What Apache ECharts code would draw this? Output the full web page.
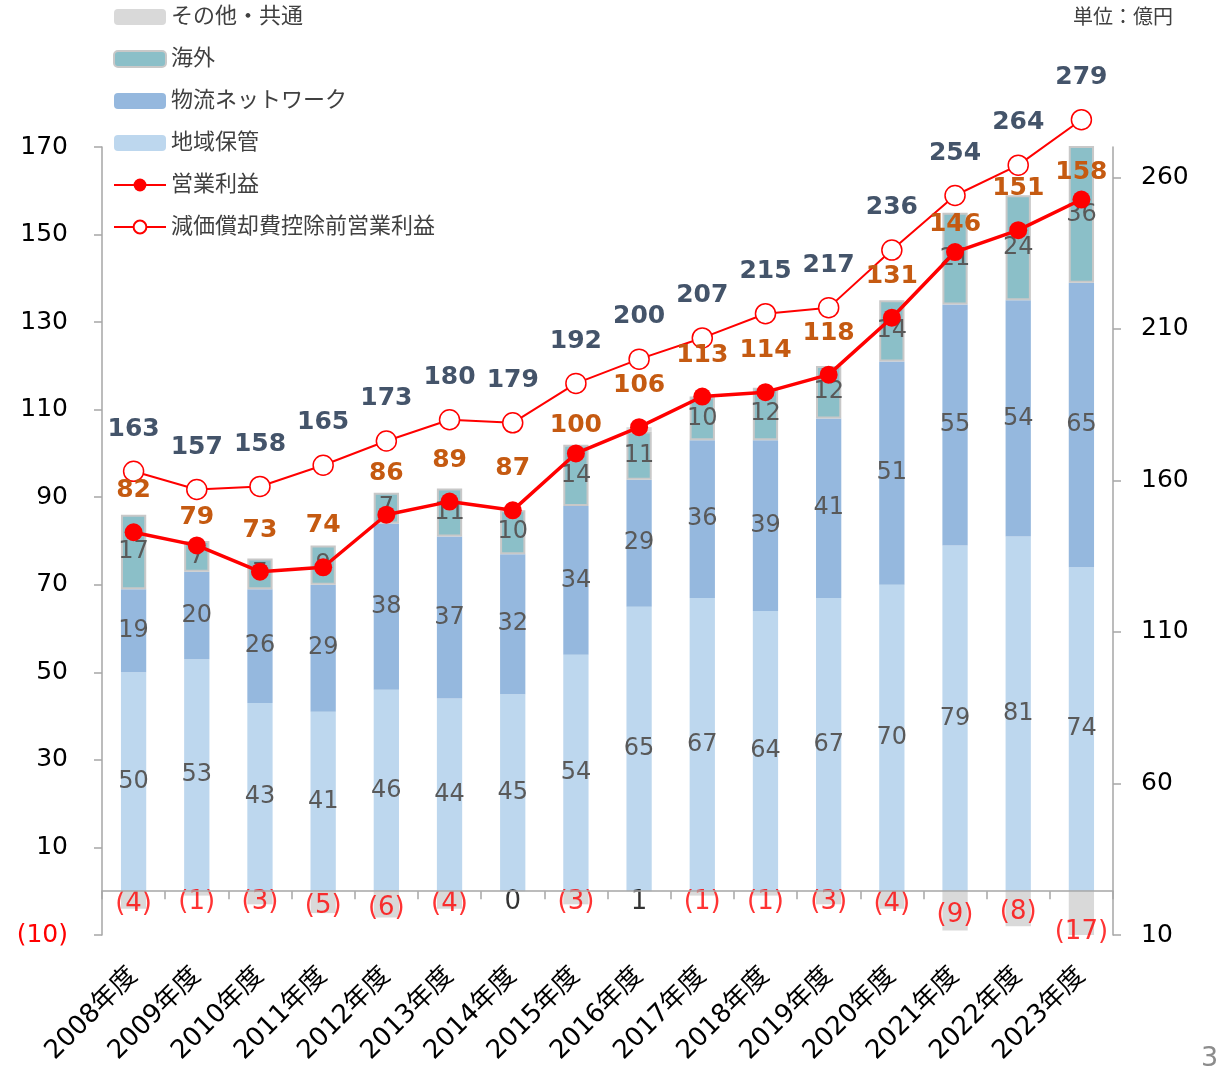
<!DOCTYPE html>
<html>
<head>
<meta charset="utf-8">
<script src="https://cdn.jsdelivr.net/npm/echarts@6/dist/echarts.min.js"></script>
<style>
  html, body { margin: 0; padding: 0; background: #fff; }
  #chart { width: 1217px; height: 1067px; }
</style>
</head>
<body>
<div id="chart"></div>
<script>
(function () {
  "use strict";

  var YEARS = ["2008年度", "2009年度", "2010年度", "2011年度", "2012年度", "2013年度", "2014年度", "2015年度",
    "2016年度", "2017年度", "2018年度", "2019年度", "2020年度", "2021年度", "2022年度", "2023年度"];
  var REGIONAL = [50, 53, 43, 41, 46, 44, 45, 54, 65, 67, 64, 67, 70, 79, 81, 74];
  var NETWORK = [19, 20, 26, 29, 38, 37, 32, 34, 29, 36, 39, 41, 51, 55, 54, 65];
  var OVERSEAS = [17, 7, 7, 9, 7, 11, 10, 14, 11, 10, 12, 12, 14, 21, 24, 36];
  var OTHER = [-4, -1, -3, -5, -6, -4, 0, -3, 1, -1, -1, -3, -4, -9, -8, -17];
  var OP_PROFIT = [82, 79, 73, 74, 86, 89, 87, 100, 106, 113, 114, 118, 131, 146, 151, 158];
  var EBITDA = [163, 157, 158, 165, 173, 180, 179, 192, 200, 207, 215, 217, 236, 254, 264, 279];
  var LEFT_TICKS = [-10, 10, 30, 50, 70, 90, 110, 130, 150, 170];
  var RIGHT_TICKS = [10, 60, 110, 160, 210, 260];

  var FONT = "'DejaVu Sans', 'Noto Sans CJK JP', sans-serif";
  var AXIS = "#a6a6a6";
  var BAR_TEXT = "#595959";

  // plot box; a thin second grid hangs just under y = 0 and draws the zero line and its ticks
  var GRID_TOP = 147, GRID_BOTTOM = 132, PLOT_H = 1067 - GRID_TOP - GRID_BOTTOM;
  var LMIN = -10, LMAX = 170, TICK_LEN = 8;
  var zeroBottom = GRID_BOTTOM + (0 - LMIN) / (LMAX - LMIN) * PLOT_H;

  // operating profit labels were hand-placed in the source, a few sit lower
  var opLabelDist = OP_PROFIT.map(function (v, i) {
    return (i === 1 || i === 7 || i === 13 || i === 15) ? 6 : 20;
  });

  function paren(v) { return v < 0 ? "(" + (-v) + ")" : String(v); }

  var barLabel = { show: true, position: "inside", color: BAR_TEXT, fontSize: 24, fontFamily: FONT };

  var chart = echarts.init(document.getElementById("chart"));
  chart.setOption({
    animation: false,
    backgroundColor: "#fff",
    textStyle: { fontFamily: FONT },
    grid: [
      { left: 102, right: 104, top: GRID_TOP, bottom: GRID_BOTTOM },
      { left: 102, right: 104, top: 1067 - zeroBottom, bottom: zeroBottom - TICK_LEN }
    ],
    legend: {
      orient: "vertical",
      left: 113,
      top: 6,
      padding: 0,
      itemWidth: 52,
      itemHeight: 16,
      itemGap: 20,
      textStyle: { fontSize: 22, color: "#404040", fontFamily: FONT },
      data: ["その他・共通", "海外", "物流ネットワーク", "地域保管", "営業利益", "減価償却費控除前営業利益"]
    },
    graphic: [
      { type: "text", right: 44, top: 9, style: { text: "単位：億円", fill: "#404040", font: "20px " + FONT } },
      { type: "text", left: 1201, top: 1045, style: { text: "3", fill: "#8c8c8c", font: "27px " + FONT } }
    ],
    xAxis: [
      {
        type: "category",
        data: YEARS,
        position: "bottom",
        axisLine: { show: false, onZero: false },
        axisTick: { show: false },
        axisLabel: { rotate: 45, margin: 37, fontSize: 26, color: "#000", fontFamily: FONT }
      },
      {
        gridIndex: 1,
        type: "category",
        data: YEARS,
        position: "top",
        axisLine: { show: true, onZero: false, lineStyle: { color: AXIS, width: 1.5 } },
        axisTick: { show: false },
        axisLabel: { show: false },
        splitLine: { show: true, interval: 0, lineStyle: { color: AXIS, width: 1.5 } },
        z: 10
      }
    ],
    yAxis: [
      {
        type: "value",
        min: LMIN,
        max: LMAX,
        splitLine: { show: false },
        axisLine: { show: true, lineStyle: { color: AXIS, width: 1.5 } },
        axisTick: { show: true, length: 8, customValues: LEFT_TICKS, lineStyle: { color: AXIS, width: 1.5 } },
        axisLabel: {
          customValues: LEFT_TICKS,
          margin: 34,
          fontSize: 25,
          fontFamily: FONT,
          formatter: paren,
          color: function (v) { return Number(v) < 0 ? "#ff0000" : "#000"; }
        }
      },
      {
        type: "value",
        min: 10,
        max: 270,
        splitLine: { show: false },
        axisLine: { show: true, lineStyle: { color: AXIS, width: 1.5 } },
        axisTick: { show: true, length: 8, customValues: RIGHT_TICKS, lineStyle: { color: AXIS, width: 1.5 } },
        axisLabel: { customValues: RIGHT_TICKS, margin: 28, fontSize: 25, color: "#000", fontFamily: FONT }
      },
      { gridIndex: 1, type: "value", min: 0, max: 1, show: false }
    ],
    series: [
      {
        name: "地域保管", type: "bar", stack: "seg", barWidth: "40%",
        data: REGIONAL,
        itemStyle: { color: "#bdd7ee" },
        label: barLabel
      },
      {
        name: "物流ネットワーク", type: "bar", stack: "seg",
        data: NETWORK,
        itemStyle: { color: "#95b8de" },
        label: barLabel
      },
      {
        name: "海外", type: "bar", stack: "seg",
        data: OVERSEAS,
        itemStyle: { color: "#8bbfc8", borderColor: "#c8c8c8", borderWidth: 2 },
        label: barLabel
      },
      {
        name: "その他・共通", type: "bar", stack: "seg",
        data: OTHER,
        itemStyle: { color: "#d9d9d9" }
      },
      {
        name: "otherLabels", type: "scatter", symbolSize: 0, silent: true,
        data: OTHER.map(function (v) {
          return {
            value: Math.min(v / 2, -1.5),
            label: { color: v < 0 ? "#ff0000" : "#000" }
          };
        }),
        label: {
          show: true, position: "inside", offset: [0, 4], fontSize: 26, fontFamily: FONT,
          formatter: function (p) { return paren(OTHER[p.dataIndex]); }
        },
        z: 5
      },
      {
        name: "減価償却費控除前営業利益", type: "line", yAxisIndex: 1, clip: false,
        data: EBITDA,
        symbol: "circle", symbolSize: 20,
        lineStyle: { color: "#ff0000", width: 2 },
        itemStyle: { color: "#fff", borderColor: "#ff0000", borderWidth: 1.5 },
        label: { show: true, position: "top", distance: 19, color: "#44546a", fontSize: 25, fontWeight: "bold", fontFamily: FONT },
        z: 6
      },
      {
        name: "営業利益", type: "line", clip: false,
        data: OP_PROFIT.map(function (v, i) {
          return { value: v, label: { distance: opLabelDist[i] } };
        }),
        symbol: "circle", symbolSize: 18,
        lineStyle: { color: "#ff0000", width: 3.5 },
        itemStyle: { color: "#ff0000" },
        label: { show: true, position: "top", color: "#c55a11", fontSize: 25, fontWeight: "bold", fontFamily: FONT },
        z: 7
      }
    ]
  });
})();
</script>
</body>
</html>
